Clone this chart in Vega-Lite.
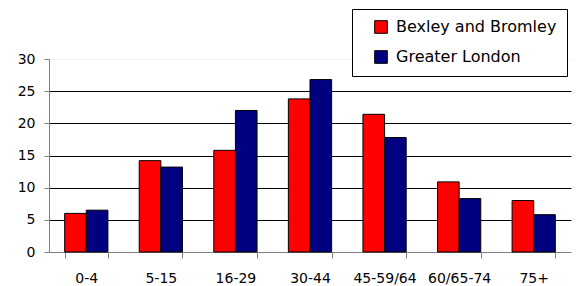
{
  "$schema": "https://vega.github.io/schema/vega-lite/v6.json",
  "width": 522,
  "height": 193,
  "autosize": {"type": "none"},
  "padding": {"left": 49, "top": 59, "right": 8, "bottom": 34},
  "background": "white",
  "config": {
    "font": "DejaVu Sans",
    "view": {"stroke": null}
  },
  "data": {
    "values": [
      {"age": "0-4", "area": "Bexley and Bromley", "pct": 6.0},
      {"age": "0-4", "area": "Greater London", "pct": 6.5},
      {"age": "5-15", "area": "Bexley and Bromley", "pct": 14.2},
      {"age": "5-15", "area": "Greater London", "pct": 13.2},
      {"age": "16-29", "area": "Bexley and Bromley", "pct": 15.8},
      {"age": "16-29", "area": "Greater London", "pct": 22.0},
      {"age": "30-44", "area": "Bexley and Bromley", "pct": 23.8},
      {"age": "30-44", "area": "Greater London", "pct": 26.8},
      {"age": "45-59/64", "area": "Bexley and Bromley", "pct": 21.4},
      {"age": "45-59/64", "area": "Greater London", "pct": 17.8},
      {"age": "60/65-74", "area": "Bexley and Bromley", "pct": 10.9},
      {"age": "60/65-74", "area": "Greater London", "pct": 8.3},
      {"age": "75+", "area": "Bexley and Bromley", "pct": 8.0},
      {"age": "75+", "area": "Greater London", "pct": 5.8}
    ]
  },
  "mark": {"type": "bar", "stroke": "black", "strokeWidth": 1},
  "encoding": {
    "x": {
      "field": "age",
      "type": "nominal",
      "sort": ["0-4", "5-15", "16-29", "30-44", "45-59/64", "60/65-74", "75+"],
      "scale": {"paddingInner": 0.42, "paddingOuter": 0.21},
      "axis": {
        "title": null,
        "labelAngle": 0,
        "labelFontSize": 14,
        "labelColor": "black",
        "labelPadding": 13,
        "tickBand": "extent",
        "tickSize": 6,
        "tickColor": "#808080",
        "domainColor": "#808080",
        "grid": false
      }
    },
    "xOffset": {
      "field": "area",
      "type": "nominal",
      "sort": ["Bexley and Bromley", "Greater London"],
      "scale": {"paddingInner": 0, "paddingOuter": 0}
    },
    "y": {
      "field": "pct",
      "type": "quantitative",
      "scale": {"domain": [0, 30], "nice": false},
      "axis": {
        "title": null,
        "values": [0, 5, 10, 15, 20, 25, 30],
        "labelFontSize": 14,
        "labelColor": "black",
        "labelPadding": 9,
        "tickSize": 5,
        "tickColor": "#808080",
        "domainColor": "#808080",
        "grid": true,
        "gridColor": {"condition": {"test": "datum.value == 30 || datum.value == 0", "value": "#f2f2f2"}, "value": "black"},
        "gridOpacity": 1
      }
    },
    "color": {
      "field": "area",
      "type": "nominal",
      "sort": ["Bexley and Bromley", "Greater London"],
      "scale": {"domain": ["Bexley and Bromley", "Greater London"], "range": ["#ff0000", "#000080"]},
      "legend": {
        "title": null,
        "orient": "none",
        "legendX": 303,
        "legendY": -50,
        "padding": 10,
        "strokeColor": "black",
        "fillColor": "white",
        "labelFontSize": 16,
        "labelLimit": 400,
        "labelColor": "black",
        "symbolType": "square",
        "symbolSize": 160,
        "symbolStrokeColor": "black",
        "symbolStrokeWidth": 1,
        "symbolOffset": 11,
        "labelOffset": 7,
        "rowPadding": 12
      }
    }
  }
}
